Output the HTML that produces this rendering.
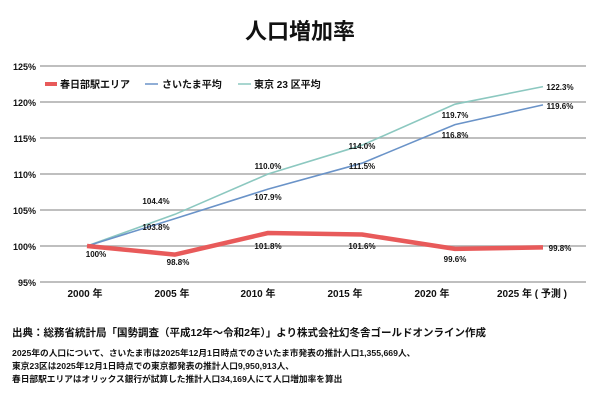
<!DOCTYPE html>
<html><head><meta charset="utf-8"><style>
html,body{margin:0;padding:0;background:#fff;}
svg text{font-family:"Liberation Sans","Noto Sans CJK JP",sans-serif;font-weight:bold;fill:#111;}
</style></head><body>
<svg width="600" height="400" viewBox="0 0 600 400" xmlns="http://www.w3.org/2000/svg">
<text x="300" y="39" font-size="22" text-anchor="middle">人口増加率</text>
<g stroke="#aaa" stroke-width="1.5">
<line x1="40" y1="66" x2="586" y2="66"/>
<line x1="40" y1="102" x2="586" y2="102"/>
<line x1="40" y1="138" x2="586" y2="138"/>
<line x1="40" y1="174" x2="586" y2="174"/>
<line x1="40" y1="210" x2="586" y2="210"/>
<line x1="40" y1="246" x2="586" y2="246"/>
<line x1="40" y1="282" x2="586" y2="282"/>
</g>
<g font-size="9" text-anchor="end">
<text x="36" y="70">125%</text><text x="36" y="106">120%</text><text x="36" y="142">115%</text>
<text x="36" y="178">110%</text><text x="36" y="214">105%</text><text x="36" y="250">100%</text><text x="36" y="286">95%</text>
</g>
<rect x="45" y="82" width="12" height="4" fill="#e85a5a"/>
<line x1="145" y1="84" x2="158" y2="84" stroke="#6a93c8" stroke-width="1.5"/>
<line x1="238" y1="84" x2="251" y2="84" stroke="#8cc8c0" stroke-width="1.5"/>
<g font-size="10">
<text x="60" y="88">春日部駅エリア</text>
<text x="162" y="88">さいたま平均</text>
<text x="254" y="88">東京 23 区平均</text>
</g>
<polyline fill="none" stroke="#8cc8c0" stroke-width="1.6" points="87,246 175,214.3 268,174 362,145.2 455,104.2 543,86.6"/>
<polyline fill="none" stroke="#6a93c8" stroke-width="1.6" points="87,246 175,218.6 268,189.1 362,163.2 455,124.6 543,104.9"/>
<polyline fill="none" stroke="#e85a5a" stroke-width="4.5" stroke-linejoin="round" points="87,246 175,254.6 268,233 362,234.5 455,248.9 543,247.4"/>
<g font-size="8" text-anchor="middle">
<text x="96" y="257">100%</text>
<text x="178" y="265">98.8%</text>
<text x="268" y="249">101.8%</text>
<text x="362" y="249">101.6%</text>
<text x="455" y="262">99.6%</text>
<text x="560" y="251">99.8%</text>
<text x="156" y="230">103.8%</text>
<text x="156" y="204">104.4%</text>
<text x="268" y="200">107.9%</text>
<text x="268" y="169">110.0%</text>
<text x="362" y="169">111.5%</text>
<text x="362" y="149">114.0%</text>
<text x="455" y="138">116.8%</text>
<text x="455" y="118">119.7%</text>
<text x="560" y="109">119.6%</text>
<text x="560" y="90">122.3%</text>
</g>
<g font-size="10" text-anchor="middle">
<text x="85" y="297">2000 年</text>
<text x="172" y="297">2005 年</text>
<text x="258" y="297">2010 年</text>
<text x="345" y="297">2015 年</text>
<text x="432" y="297">2020 年</text>
<text x="532" y="297">2025 年 ( 予測 )</text>
</g>
<text x="12" y="336" font-size="10.5">出典：総務省統計局「国勢調査（平成12年～令和2年）」より株式会社幻冬舎ゴールドオンライン作成</text>
<g font-size="8.7">
<text x="12" y="356">2025年の人口について、さいたま市は2025年12月1日時点でのさいたま市発表の推計人口1,355,669人、</text>
<text x="12" y="369">東京23区は2025年12月1日時点での東京都発表の推計人口9,950,913人、</text>
<text x="12" y="382">春日部駅エリアはオリックス銀行が試算した推計人口34,169人にて人口増加率を算出</text>
</g>
</svg>
</body></html>
